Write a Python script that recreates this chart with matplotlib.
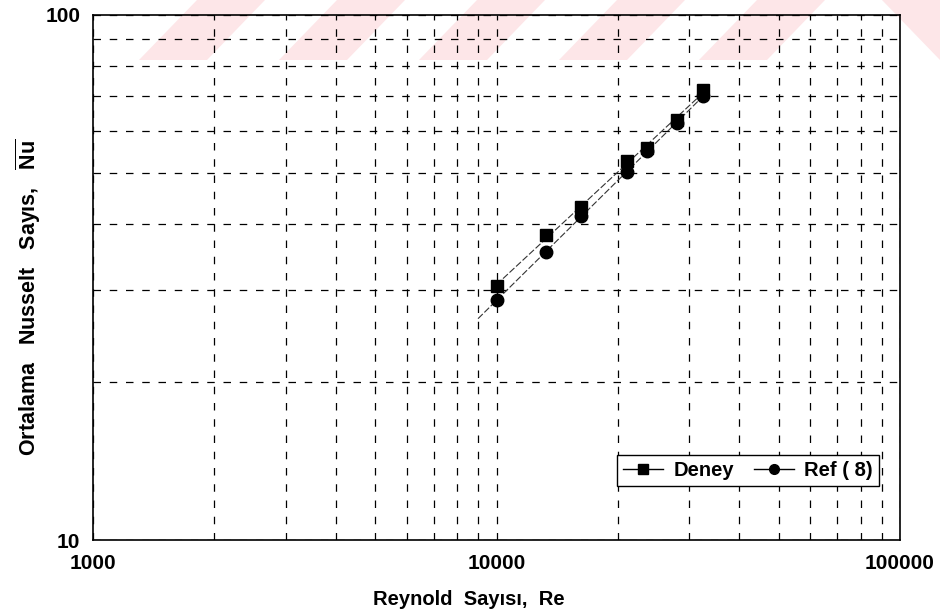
import matplotlib
matplotlib.use('Agg')
import matplotlib.pyplot as plt
import numpy as np
from matplotlib.patches import Polygon
from matplotlib.lines import Line2D
from matplotlib.ticker import NullFormatter

plt.rcParams['font.family'] = ['Liberation Sans', 'DejaVu Sans']
plt.rcParams['font.weight'] = 'bold'
plt.rcParams['mathtext.fontset'] = 'custom'
plt.rcParams['mathtext.rm'] = 'Liberation Sans:bold'
plt.rcParams['mathtext.bf'] = 'Liberation Sans:bold'

# Reynolds numbers of the measurements
re = [10000, 13300, 16200, 21100, 23600, 28000, 32400]
# Average Nusselt numbers
nu_deney = [30.5, 38.1, 43.0, 52.7, 55.7, 63.0, 72.1]
nu_ref = [28.6, 35.4, 41.5, 50.3, 55.0, 62.3, 70.0]
# trend line ranges
range_deney = [10000, 32500]
range_ref = [9000, 32000]

xticks = [1000, 10000, 100000]
yticks = [10, 100]

fig = plt.figure(figsize=(9.4, 6.14), dpi=100)
ax = fig.add_axes([93/940, 74/614, 807/940, 525/614])
ax.set_facecolor('none')

# pink watermark stripes at the top
pink = '#fde6e8'
W, H = 940.0, 614.0
for x0 in [197, 337, 477, 617, 757]:
    pts = [(x0, 0), (x0 + 68, 0), (x0 + 68 - 58, 60), (x0 - 58, 60)]
    fig.patches.append(Polygon([(px / W, 1 - py / H) for px, py in pts], closed=True,
                               transform=fig.transFigure, facecolor=pink,
                               edgecolor='none', zorder=-5))
pts = [(882, 0), (945, 0), (1003, 60), (940, 60)]
fig.patches.append(Polygon([(px / W, 1 - py / H) for px, py in pts], closed=True,
                           transform=fig.transFigure, facecolor=pink,
                           edgecolor='none', zorder=-5))

ax.set_xscale('log')
ax.set_yscale('log')
ax.set_xlim(1000, 100000)
ax.set_ylim(10, 100)

ax.set_xticks(xticks)
ax.set_xticklabels([str(t) for t in xticks])
ax.set_yticks(yticks)
ax.set_yticklabels([str(t) for t in yticks])
ax.set_xticks([m * d for d in [1000, 10000] for m in range(2, 10)], minor=True)
ax.set_yticks([m * 10 for m in range(2, 10)], minor=True)
ax.xaxis.set_minor_formatter(NullFormatter())
ax.yaxis.set_minor_formatter(NullFormatter())
ax.tick_params(which='both', length=0, labelsize=15)
ax.tick_params(axis='x', pad=10)
ax.tick_params(axis='y', pad=9)

ax.grid(True, which='both', color='black', linestyle=(0, (6, 7)), linewidth=0.9)
ax.set_axisbelow(True)
for s in ax.spines.values():
    s.set_linewidth(1.2)

# power-law trend lines
for nu, rng in [(nu_deney, range_deney), (nu_ref, range_ref)]:
    k, c = np.polyfit(np.log10(re), np.log10(nu), 1)
    xs = np.array(rng)
    ax.plot(xs, 10 ** (c + k * np.log10(xs)), color='#333333', lw=0.8,
            linestyle=(0, (6, 2)), zorder=3)

ax.plot(re, nu_deney, 's', color='black', markersize=9, zorder=4)
ax.plot(re, nu_ref, 'o', color='black', markersize=9, zorder=4)

handles = [Line2D([0], [0], color='black', lw=1, marker='s', markersize=7),
           Line2D([0], [0], color='black', lw=1, marker='o', markersize=7)]
leg = ax.legend(handles, ['Deney', 'Ref ( 8)'], ncol=2, loc='lower right',
                bbox_to_anchor=((879 - 93) / 807, (540 - 486) / 525),
                borderaxespad=0, fancybox=False, framealpha=1,
                edgecolor='black', fontsize=14.5, handlelength=2.0,
                columnspacing=1.0, borderpad=0.3, handletextpad=0.5)
leg.get_frame().set_linewidth(1.0)

ax.set_xlabel('Reynold  Sayısı,  Re', fontsize=14.5, fontweight='bold')
ax.set_ylabel(r'Ortalama   Nusselt   Sayıs,   $\overline{\mathbf{Nu}}$', fontsize=15.5,
              fontweight='bold')
ax.xaxis.set_label_coords((469 - 93) / 807, -(590 - 540) / 525)
ax.yaxis.set_label_coords(-(93 - 43) / 807, (540 - 297) / 525)

fig.savefig('out.png', dpi=100)
